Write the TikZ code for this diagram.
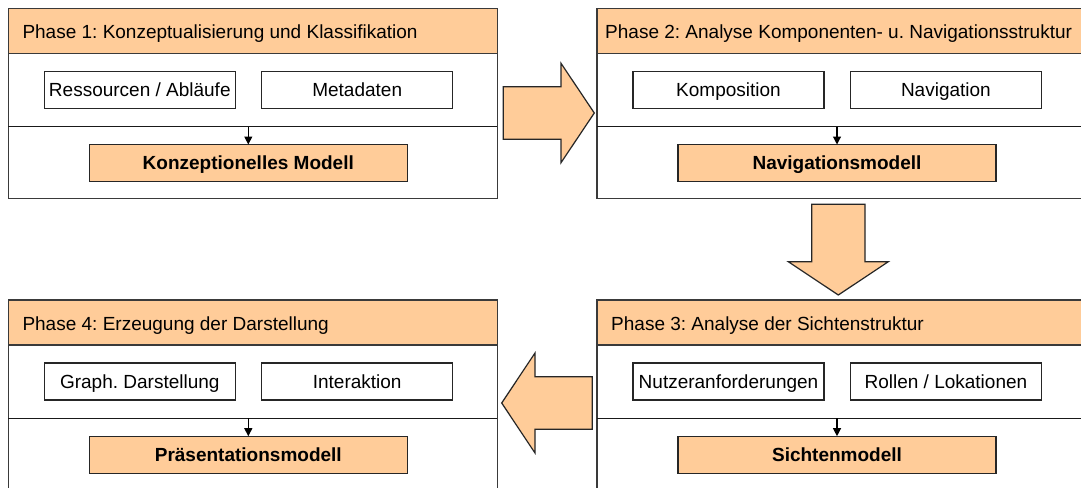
\documentclass[tikz,border=0pt]{standalone}
\usepackage{fontspec}
\setmainfont{Liberation Sans}
\usetikzlibrary{arrows.meta,calc}
\frenchspacing

\definecolor{phaseorange}{HTML}{FFCC99}
\definecolor{framegray}{HTML}{3A3A3A}

\tikzset{
  panel/.style={fill=white, inner sep=0pt, outer sep=0pt,
    minimum height=190pt, anchor=north west},
  headband/.style={fill=phaseorange, inner sep=0pt, outer sep=0pt,
    minimum height=45pt, anchor=north west},
  rim/.style={draw=framegray, line width=1.3pt, line join=miter},
  phasetitle/.style={anchor=base west, inner sep=0pt, font=\fontsize{19}{22}\selectfont},
  itembox/.style={draw=black!85, line width=1.2pt, fill=white, inner sep=0pt, outer sep=0pt,
    minimum width=191pt, minimum height=37pt, text height=13.6pt, text depth=0pt,
    font=\fontsize{19}{22}\selectfont},
  modelbox/.style={itembox, fill=phaseorange, minimum width=318pt,
    font=\fontsize{19}{22}\selectfont\bfseries},
  divider/.style={draw=black!90, line width=1.2pt},
  feed/.style={draw=black, line width=1.2pt, -{Triangle[width=8pt,length=8pt]}},
  flowarrow/.style={draw=black!85, line width=1.2pt, fill=phaseorange, line join=miter},
}

% #1 name, #2 x, #3 y (top left), #4 width, #5 title inset, #6 title,
% #7 first item, #8 second item, #9 resulting model
% The frame is drawn open on the right; closepanel adds the right edge.
\newcommand\phasepanel[9]{%
  \node[panel, minimum width=#4pt] (#1) at (#2,#3) {};
  \node[headband, minimum width=#4pt] (#1h) at (#2,#3) {};
  \draw[rim] (#1.north east) -- (#1.north west) -- (#1.south west) -- (#1.south east);
  \draw[rim] (#1h.south west) -- (#1h.south east);
  \node[phasetitle] (#1t) at (#2+#5,#3+30.7) {#6};
  \draw[divider] (#2,#3+118.4) -- (#2+#4,#3+118.4);
  \node[itembox] (#1a) at (#2+131.5,#3+81.4) {#7};
  \node[itembox] (#1b) at (#2+348.9,#3+81.4) {#8};
  \node[modelbox] (#1m) at (#2+240,#3+154.7) {#9};
  \coordinate (#1d) at (#2+240,#3+118.4);
  \draw[feed] (#1d) -- (#1m.north);
}
\newcommand\closepanel[1]{\draw[rim] (#1.north east) -- (#1.south east);}

\begin{document}
\begin{tikzpicture}[x=1pt,y=-1pt]
  \fill[white] (0,0) rectangle (1081,487);
  \useasboundingbox (0,0) rectangle (1081,487);

  \phasepanel{p1}{8.3}{8.3}{489.5}{14}{Phase 1: Konzeptualisierung und Klassifikation}
    {Ressourcen / Abläufe}{Metadaten}{Konzeptionelles Modell}
  \closepanel{p1}
  \phasepanel{p2}{597}{8.3}{520}{8}{Phase 2: Analyse Komponenten- u. Navigationsstruktur}
    {Komposition}{Navigation}{Navigationsmodell}
  \phasepanel{p3}{597}{300}{520}{14}{Phase 3: Analyse der Sichtenstruktur}
    {Nutzeranforderungen}{Rollen / Lokationen}{Sichtenmodell}
  \phasepanel{p4}{8.3}{300}{489.5}{14}{Phase 4: Erzeugung der Darstellung}
    {Graph. Darstellung}{Interaktion}{Präsentationsmodell}
  \closepanel{p4}

  % block arrows leading from one phase to the next
  \draw[flowarrow] (503.3,86.7) -- (561,86.7) -- (561,63.3) -- (594.3,113)
    -- (561,162.7) -- (561,139.3) -- (503.3,139.3) -- cycle;
  \draw[flowarrow] (811.7,204.3) -- (865,204.3) -- (865,261.7) -- (888.3,261.7)
    -- (838.3,295) -- (788.3,261.7) -- (811.7,261.7) -- cycle;
  \draw[flowarrow] (592.3,376.7) -- (535,376.7) -- (535,353) -- (501.7,403)
    -- (535,453) -- (535,429.3) -- (592.3,429.3) -- cycle;
\end{tikzpicture}
\end{document}
